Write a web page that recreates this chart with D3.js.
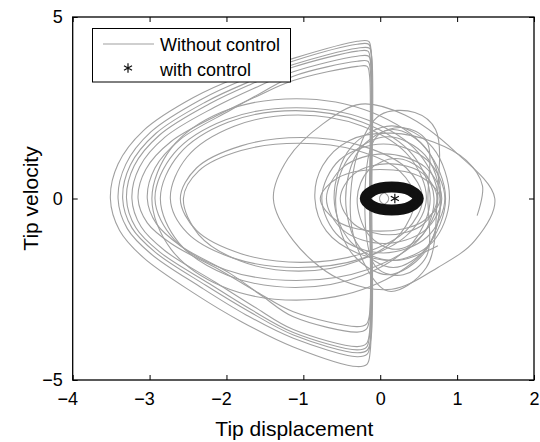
<!DOCTYPE html>
<html>
<head>
<meta charset="utf-8">
<script src="https://cdn.jsdelivr.net/npm/d3@7"></script>
<style>
  body { margin: 0; background: #fff; }
  svg text { font-family: "Liberation Sans", Arial, Helvetica, sans-serif; fill: #000; }
</style>
</head>
<body>
<svg id="chart" width="540" height="442"></svg>
<script>
// ---- axis setup ----
const xTicks = [-4, -3, -2, -1, 0, 1, 2];
const yTicks = [-5, 0, 5];
const xLabel = "Tip displacement";
const yLabel = "Tip velocity";
const legendLabels = ["Without control", "with control"];

// ---- uncontrolled response (tip displacement, tip velocity) ----
// grazing orbits that hit the stop near x = -0.12
const impactOrbits = [
  [[-0.12,4.1],[-0.15,4.33],[-0.3,4.33],[-1.13,3.86],[-1.8,3.38],[-2.43,2.78],[-3.08,1.87],[-3.41,0.95],[-3.51,0],[-3.39,-0.88],[-3.08,-1.63],[-2.43,-2.6],[-1.8,-3.4],[-1.13,-4.09],[-0.3,-4.63],[-0.17,-4.56],[-0.13,-4.2],[-0.12,0]],
  [[-0.12,4.02],[-0.15,4.25],[-0.3,4.25],[-1.13,3.79],[-1.75,3.3],[-2.33,2.73],[-2.98,1.84],[-3.31,0.94],[-3.41,0],[-3.29,-0.83],[-2.98,-1.53],[-2.33,-2.45],[-1.75,-3.2],[-1.13,-3.85],[-0.3,-4.36],[-0.17,-4.29],[-0.13,-3.95],[-0.13,0]],
  [[-0.11,3.9],[-0.14,4.14],[-0.3,4.14],[-1.13,3.69],[-1.7,3.22],[-2.27,2.66],[-2.92,1.79],[-3.25,0.92],[-3.35,0],[-3.23,-0.81],[-2.92,-1.49],[-2.27,-2.39],[-1.7,-3.12],[-1.13,-3.76],[-0.3,-4.25],[-0.17,-4.18],[-0.12,-3.85],[-0.11,0]],
  [[-0.13,3.83],[-0.16,4.06],[-0.3,4.06],[-1.13,3.62],[-1.68,3.15],[-2.22,2.61],[-2.87,1.75],[-3.2,0.9],[-3.3,0],[-3.18,-0.8],[-2.87,-1.47],[-2.22,-2.35],[-1.68,-3.06],[-1.13,-3.69],[-0.3,-4.17],[-0.18,-4.1],[-0.14,-3.8],[-0.13,0]],
  [[-0.12,3.7],[-0.15,3.92],[-0.3,3.92],[-1.13,3.49],[-1.64,3.04],[-2.15,2.52],[-2.8,1.69],[-3.13,0.87],[-3.23,0],[-3.11,-0.78],[-2.8,-1.44],[-2.15,-2.3],[-1.64,-2.98],[-1.13,-3.61],[-0.3,-4.08],[-0.18,-4.0],[-0.14,-3.7],[-0.12,0]],
  [[-0.14,3.4],[-0.17,3.64],[-0.3,3.64],[-1.13,3.25],[-1.6,2.82],[-2.07,2.34],[-2.72,1.57],[-3.05,0.8],[-3.15,0],[-3.03,-0.67],[-2.72,-1.24],[-2.07,-1.99],[-1.6,-2.58],[-1.13,-3.12],[-0.3,-3.53],[-0.18,-3.46],[-0.14,-3.2],[-0.14,0]],
  [[-0.13,3.55],[-0.16,3.78],[-0.3,3.78],[-1.13,3.37],[-1.54,2.92],[-1.95,2.43],[-2.6,1.63],[-2.93,0.84],[-3.03,0],[-2.91,-0.7],[-2.6,-1.3],[-1.95,-2.07],[-1.54,-2.68],[-1.13,-3.26],[-0.3,-3.68],[-0.18,-3.6],[-0.14,-3.3],[-0.13,0]]
];

// wide free-flight orbits on the left
const wideOrbits = [
  [[0.85,0],[0.59,1.38],[-0.12,2.38],[-1.09,2.75],[-2.06,2.38],[-2.72,1.38],[-2.97,0],[-2.72,-1.4],[-2.06,-2.42],[-1.09,-2.8],[-0.12,-2.42],[0.59,-1.4]],
  [[0.75,0],[0.5,1.25],[-0.17,2.17],[-1.09,2.5],[-2.01,2.17],[-2.68,1.25],[-2.93,0],[-2.68,-1.13],[-2.01,-1.96],[-1.09,-2.26],[-0.17,-1.96],[0.5,-1.13]],
  [[0.65,0],[0.42,1.21],[-0.23,2.1],[-1.1,2.42],[-1.98,2.1],[-2.62,1.21],[-2.86,0],[-2.62,-1.22],[-1.98,-2.12],[-1.1,-2.45],[-0.23,-2.12],[0.42,-1.22]],
  [[0.6,0],[0.38,1.15],[-0.23,1.99],[-1.07,2.3],[-1.9,1.99],[-2.51,1.15],[-2.73,0],[-2.51,-0.95],[-1.9,-1.65],[-1.07,-1.9],[-0.23,-1.65],[0.38,-0.95]],
  [[0.55,0],[0.34,0.84],[-0.24,1.45],[-1.03,1.68],[-1.81,1.45],[-2.39,0.84],[-2.6,0],[-2.39,-0.88],[-1.81,-1.52],[-1.03,-1.76],[-0.24,-1.52],[0.34,-0.88]],
  [[0.45,0],[0.25,0.76],[-0.3,1.32],[-1.06,1.52],[-1.81,1.32],[-2.36,0.76],[-2.56,0],[-2.36,-1.0],[-1.81,-1.73],[-1.06,-2.0],[-0.3,-1.73],[0.25,-1.0]]
];

// orbits around the stop, including the squarish ones
const nearOrbits = [
  [[-1.39,0],[-1.2,1.1],[-0.75,2.05],[-0.25,2.6],[0.32,2.3],[0.97,1.3],[1.49,0],[1.23,-1.16],[0.75,-1.9],[0.15,-2.5],[-0.55,-2.2],[-1.13,-1.16]],
  [[0.84,0],[0.61,1.06],[0.04,1.5],[-0.53,1.06],[-0.76,0],[-0.53,-1.06],[0.04,-1.5],[0.61,-1.06]],
  [[0.8,0],[0.58,0.87],[0.05,1.23],[-0.48,0.87],[-0.7,0],[-0.48,-0.88],[0.05,-1.24],[0.58,-0.88]],
  [[0.74,0],[0.56,0.68],[0.11,0.96],[-0.34,0.68],[-0.52,0],[-0.34,-0.71],[0.11,-1.0],[0.56,-0.71]],
  [[0.79,0],[0.61,1.34],[0.17,1.9],[-0.27,1.34],[-0.45,0],[-0.27,-1.34],[0.17,-1.9],[0.61,-1.34]],
  [[0.9,0],[0.68,1.41],[0.15,2.0],[-0.38,1.41],[-0.6,0],[-0.38,-1.2],[0.15,-1.7],[0.68,-1.2]],
  [[0.74,0],[0.72,1.9],[0.45,2.37],[0.0,2.3],[-0.3,1.2],[-0.35,-1.0],[0.1,-2.55],[0.6,-1.9]],
  [[0.62,0],[0.6,1.6],[0.3,1.95],[-0.05,1.7],[-0.2,0],[-0.05,-1.9],[0.3,-2.1],[0.6,-1.6]],
  [[0.7,0],[0.55,0.78],[0.2,1.1],[-0.15,0.78],[-0.3,0],[-0.15,-1.0],[0.2,-1.4],[0.55,-1.0]],
  [[0.78,0],[0.58,1.2],[0.1,1.7],[-0.38,1.2],[-0.58,0],[-0.38,-1.48],[0.1,-2.1],[0.58,-1.48]],
  [[0.78,0],[0.55,0.57],[0.0,0.8],[-0.55,0.57],[-0.78,0],[-0.55,-0.64],[0.0,-0.9],[0.55,-0.64]],
  [[0.11,0],[0.09,0.1],[0.05,0.15],[0.01,0.1],[-0.01,0],[0.01,-0.1],[0.05,-0.15],[0.09,-0.1]]
];

// start of the run
const transientArc = [[1.26,-0.47],[1.33,0.35],[1.12,1.05],[0.7,1.55],[0.15,1.8],[-0.4,1.6],[-0.75,0.9],[-0.85,0],[-0.7,-0.9],[-0.3,-1.5],[0.25,-1.7],[0.75,-1.3]];

// ---- controlled response ----
const controlledOrbit = [[0.495,0],[0.39,0.226],[0.15,0.32],[-0.09,0.226],[-0.195,0],[-0.09,-0.226],[0.15,-0.32],[0.39,-0.226]];
const controlledCentre = [[0.19,0]];

// ---- layout ----
const plot = { left: 72.7, right: 534, top: 17, bottom: 380 };
const gray = "#a0a0a0";

const svg = d3.select("#chart");
const x = d3.scaleLinear().domain([-4, 2]).range([plot.left, plot.right]);
const y = d3.scaleLinear().domain([-5, 5]).range([plot.bottom, plot.top]);

svg.append("defs").append("clipPath").attr("id", "plotClip")
  .append("rect")
  .attr("x", plot.left).attr("y", plot.top)
  .attr("width", plot.right - plot.left).attr("height", plot.bottom - plot.top);

const closedLine = d3.line().x(d => x(d[0])).y(d => y(d[1]))
  .curve(d3.curveCatmullRomClosed.alpha(0.5));
const openLine = d3.line().x(d => x(d[0])).y(d => y(d[1]))
  .curve(d3.curveCatmullRom.alpha(0.5));

const traj = svg.append("g").attr("clip-path", "url(#plotClip)");

traj.selectAll("path.free")
  .data([...wideOrbits, ...nearOrbits])
  .join("path")
  .attr("class", "free")
  .attr("d", closedLine)
  .attr("fill", "none").attr("stroke", gray).attr("stroke-width", 1.1);

traj.selectAll("path.impact")
  .data(impactOrbits)
  .join("path")
  .attr("class", "impact")
  .attr("d", closedLine)
  .attr("fill", "none").attr("stroke", gray).attr("stroke-width", 1.1);

traj.append("path").datum(transientArc)
  .attr("d", openLine)
  .attr("fill", "none").attr("stroke", gray).attr("stroke-width", 1.1);

// controlled orbit: dense asterisk markers merge into a thick ring
traj.append("path").datum(controlledOrbit)
  .attr("d", closedLine)
  .attr("fill", "none").attr("stroke", "#111").attr("stroke-width", 11);

const starSym = d3.symbolAsterisk || { draw(ctx, size) {
  const r = Math.sqrt(size) * 0.6;
  for (let k = 0; k < 3; k++) {
    const a = k * Math.PI / 3, c = Math.cos(a) * r, s = Math.sin(a) * r;
    ctx.moveTo(-c, -s); ctx.lineTo(c, s);
  }
}};
const star = d3.symbol(starSym, 60);

traj.selectAll("path.star")
  .data([...controlledOrbit, ...controlledCentre])
  .join("path")
  .attr("class", "star")
  .attr("transform", d => `translate(${x(d[0])},${y(d[1])})`)
  .attr("d", star)
  .attr("fill", "none").attr("stroke", "#111").attr("stroke-width", 1.2);

// ---- axes (box with inward ticks on all sides) ----
const tickLen = 5;
const axes = svg.append("g");
const fmt = d => d < 0 ? "\u2212" + Math.abs(d) : String(d);

const bottomAxis = d3.axisBottom(x).tickValues(xTicks).tickSizeInner(-tickLen).tickSizeOuter(0)
  .tickPadding(12).tickFormat(fmt);
const leftAxis = d3.axisLeft(y).tickValues(yTicks).tickSizeInner(-tickLen).tickSizeOuter(0)
  .tickPadding(10).tickFormat(fmt);
const topAxis = d3.axisTop(x).tickValues(xTicks).tickSizeInner(-tickLen).tickSizeOuter(0).tickFormat("");
const rightAxis = d3.axisRight(y).tickValues(yTicks).tickSizeInner(-tickLen).tickSizeOuter(0).tickFormat("");

function style(g) {
  g.selectAll("path").remove();
  g.selectAll("line").attr("stroke", "#000");
  g.selectAll("text").attr("font-size", 18).attr("fill", "#000")
    .attr("font-family", "'Liberation Sans', Arial, Helvetica, sans-serif");
}
axes.append("g").attr("transform", `translate(0,${plot.bottom})`).call(bottomAxis).call(style)
  // keep the digit centred on its tick, the minus sign hangs to the left
  .selectAll("text").attr("dx", d => d < 0 ? -5.5 : 0);
axes.append("g").attr("transform", `translate(${plot.left},0)`).call(leftAxis).call(style);
axes.append("g").attr("transform", `translate(0,${plot.top})`).call(topAxis).call(style);
axes.append("g").attr("transform", `translate(${plot.right},0)`).call(rightAxis).call(style);

axes.append("rect")
  .attr("x", plot.left).attr("y", plot.top)
  .attr("width", plot.right - plot.left).attr("height", plot.bottom - plot.top)
  .attr("fill", "none").attr("stroke", "#000").attr("stroke-width", 1.3);

svg.append("text")
  .attr("x", (plot.left + plot.right) / 2 - 9).attr("y", 436)
  .attr("text-anchor", "middle").attr("font-size", 21)
  .text(xLabel);

svg.append("text")
  .attr("transform", `translate(38,${(plot.top + plot.bottom) / 2}) rotate(-90)`)
  .attr("text-anchor", "middle").attr("font-size", 21)
  .text(yLabel);

// ---- legend ----
const lg = svg.append("g");
lg.append("rect")
  .attr("x", 92.5).attr("y", 28.5).attr("width", 198).attr("height", 53.5)
  .attr("fill", "#fff").attr("stroke", "#000").attr("stroke-width", 1);
lg.append("line")
  .attr("x1", 103).attr("x2", 154).attr("y1", 44).attr("y2", 44)
  .attr("stroke", gray).attr("stroke-width", 1.1);
lg.append("path")
  .attr("transform", "translate(128,68)")
  .attr("d", star)
  .attr("fill", "none").attr("stroke", "#111").attr("stroke-width", 1.2);
lg.selectAll("text.lab")
  .data(legendLabels)
  .join("text")
  .attr("class", "lab")
  .attr("x", 160).attr("y", (d, i) => 51 + i * 25)
  .attr("font-size", 18)
  .text(d => d);
</script>
</body>
</html>
